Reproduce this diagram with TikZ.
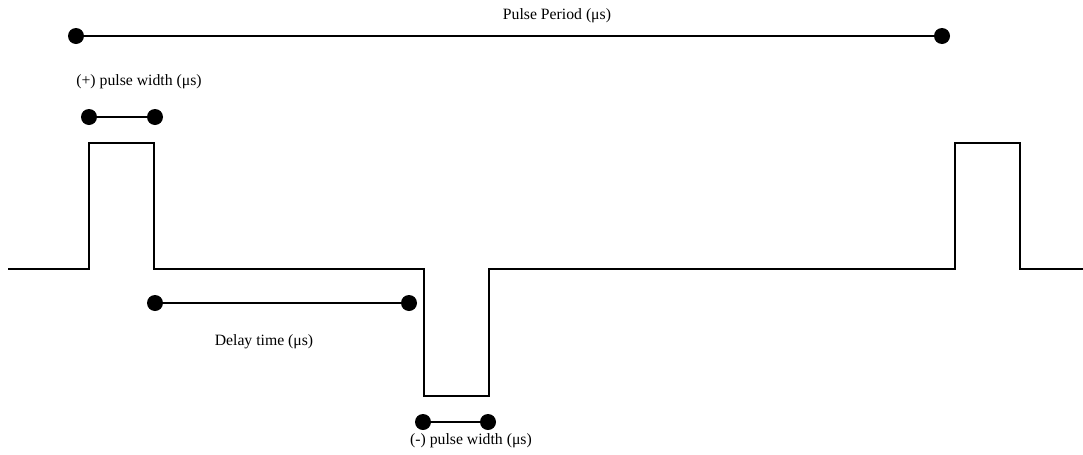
\documentclass[tikz,border=0pt]{standalone}
\usepackage{fontspec}
\setmainfont{Liberation Serif}
\usepackage{tikz}
\usetikzlibrary{positioning}
\tikzstyle{dot} = [circle, fill=black, inner sep=0pt, minimum size=12pt]
\tikzstyle{span} = [line width=1.3pt]
\tikzstyle{signal} = [line width=1.5pt, line join=miter]
\tikzstyle{lbl} = [font=\fontsize{11.8}{13}\selectfont, inner sep=0pt]
\begin{document}
\begin{tikzpicture}[x=0.75pt, y=-0.75pt]
		\useasboundingbox (0,0) rectangle (1083,454);
		% timing spans
		\node [dot] at (76,36)   (per1) {};
		\node [dot] at (942,36)  (per2) {};
		\node [dot] at (89,117)  (pos1) {};
		\node [dot] at (155,117) (pos2) {};
		\node [dot] at (155,303) (del1) {};
		\node [dot] at (409,303) (del2) {};
		\node [dot] at (423,422) (neg1) {};
		\node [dot] at (488,422) (neg2) {};
		
		\draw [span] (per1) -- (per2);
		\draw [span] (pos1) -- (pos2);
		\draw [span] (del1) -- (del2);
		\draw [span] (neg1) -- (neg2);
		
		\node [lbl] at (557,16)  (perlbl) {Pulse Period (μs)};
		\node [lbl] at (139,82)  (poslbl) {(+) pulse width (μs)};
		\node [lbl] at (264,342) (dellbl) {Delay time (μs)};
		\node [lbl] at (471,441) (neglbl) {(-) pulse width (μs)};
		
		% waveform
		\draw [signal] (8,269) -- (89,269) -- (89,143) -- (154,143) -- (154,269)
			-- (424,269) -- (424,396) -- (489,396) -- (489,269)
			-- (955,269) -- (955,143) -- (1020,143) -- (1020,269) -- (1083,269);
	\end{tikzpicture}
\end{document}
